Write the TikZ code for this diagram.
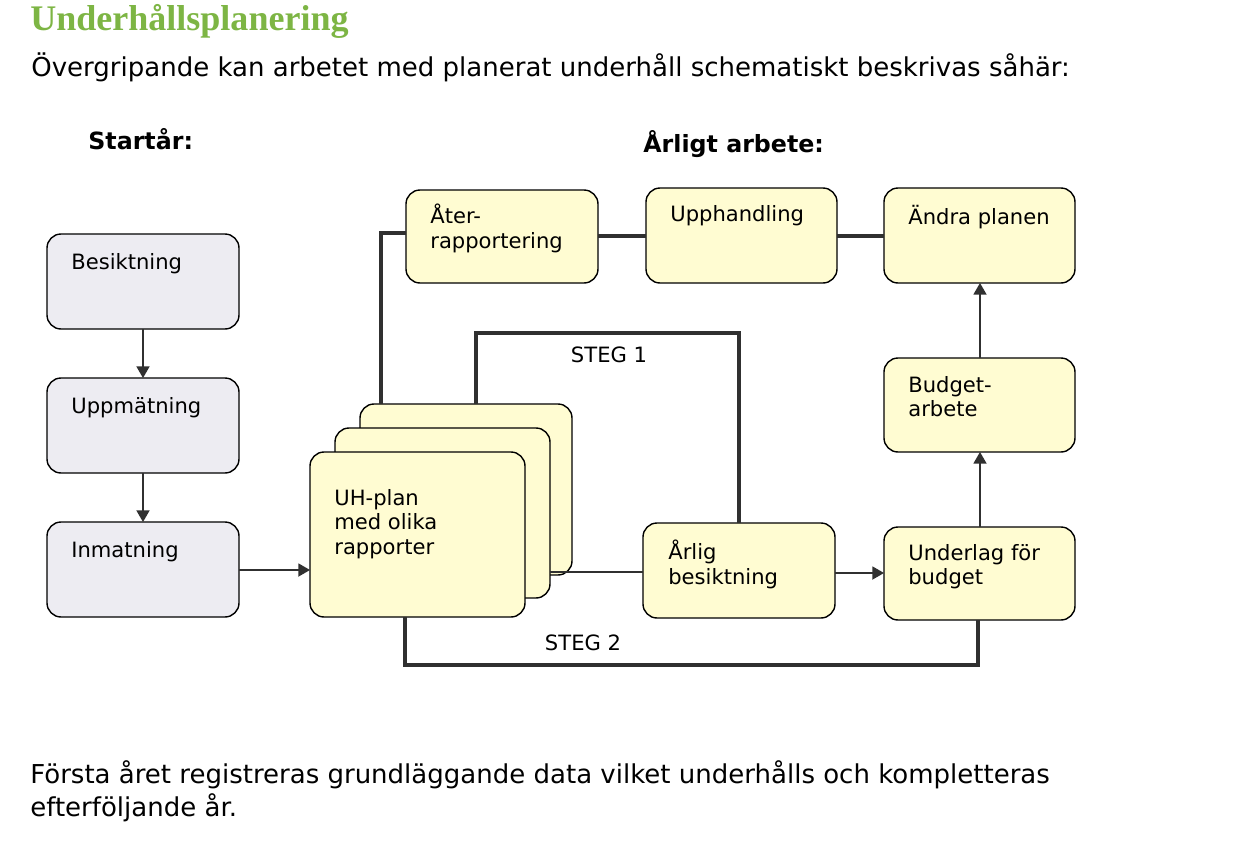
\documentclass[tikz,border=0pt]{standalone}
\usepackage{fontspec}
\setmainfont{DejaVu Sans}
\newfontfamily\titlefont{Liberation Serif}
\usetikzlibrary{arrows,positioning}
\definecolor{boxyellow}{HTML}{FFFCD2}
\definecolor{boxgray}{HTML}{EDECF2}
\definecolor{linegray}{HTML}{303030}
\definecolor{titlegreen}{HTML}{7DB544}
\begin{document}
\begin{tikzpicture}[x=0.02cm, y=-0.02cm, >=triangle 60]
    \tikzstyle{card} = [draw, thick, rounded corners=8pt, fill=boxyellow, inner sep=0pt]
    \tikzstyle{grey} = [card, fill=boxgray]
    \tikzstyle{txt} = [anchor=north west, align=left, font=\fontsize{12}{14}\selectfont, inner sep=0pt]
    \tikzstyle{fat} = [line width=2.2pt, linegray]
    \tikzstyle{thin} = [thick, linegray]
    \useasboundingbox (0,0) rectangle (1259,842);
    % texts around the chart
    \node[anchor=north west, inner sep=0pt, text=titlegreen, font=\titlefont\bfseries\fontsize{20.5}{24}\selectfont] (title) at (30,4) {Underhållsplanering};
    \node[anchor=north west, inner sep=0pt, font=\fontsize{14.8}{18}\selectfont] (intro) at (31,52) {Övergripande kan arbetet med planerat underhåll schematiskt beskrivas såhär:};
    \node[anchor=north west, inner sep=0pt, font=\bfseries\fontsize{13.5}{16}\selectfont] (start) at (88,128) {Startår:};
    \node[anchor=north west, inner sep=0pt, font=\bfseries\fontsize{13.5}{16}\selectfont] (yearly) at (643,130) {Årligt arbete:};
    \node[anchor=north west, inner sep=0pt, align=left, font=\fontsize{14.8}{19}\selectfont] (outro) at (30,760) {Första året registreras grundläggande data vilket underhålls och kompletteras\\efterföljande år.};
    % start year
    \draw[grey] (47,234) rectangle (239,329);
    \draw[grey] (47,378) rectangle (239,473);
    \draw[grey] (47,522) rectangle (239,617);
    \node[txt] (bes) at (71,253) {Besiktning};
    \node[txt] (upp) at (71,397) {Uppmätning};
    \node[txt] (inm) at (71,541) {Inmatning};
    \coordinate (besS) at (143,329);
    \coordinate (uppN) at (143,378);
    \coordinate (uppS) at (143,473);
    \coordinate (inmN) at (143,522);
    \draw[thin, ->] (besS) -- (uppN);
    \draw[thin, ->] (uppS) -- (inmN);
    % plan stack
    \draw[card] (360,404) rectangle (572,575);
    \draw[card] (335,428) rectangle (550,598);
    \draw[card] (310,452) rectangle (525,617);
    \node[txt] (uh) at (334,489) {UH-plan\\med olika\\rapporter};
    % yearly work
    \draw[card] (406,190) rectangle (598,283);
    \draw[card] (646,188) rectangle (837,283);
    \draw[card] (884,188) rectangle (1075,283);
    \draw[card] (884,358) rectangle (1075,452);
    \draw[card] (643,523) rectangle (835,618);
    \draw[card] (884,527) rectangle (1075,620);
    \node[txt] (ater) at (430,204) {Åter-\\rapportering};
    \node[txt] (upph) at (670,205) {Upphandling};
    \node[txt] (andra) at (908,205) {Ändra planen};
    \node[txt] (budg) at (908,376) {Budget-\\arbete};
    \node[txt] (arl) at (668,540) {Årlig\\besiktning};
    \node[txt] (under) at (908,544) {Underlag för\\budget};
    % connectors
    \coordinate (inmE) at (239,570);
    \coordinate (uhW) at (310,570);
    \draw[thin, ->] (inmE) -- (uhW);
    \coordinate (stackE) at (550,572);
    \coordinate (arlW) at (643,572);
    \draw[thin] (stackE) -- (arlW);
    \coordinate (arlE) at (835,573);
    \coordinate (underW) at (884,573);
    \draw[thin, ->] (arlE) -- (underW);
    \coordinate (underN) at (980,527);
    \coordinate (budgS) at (980,452);
    \coordinate (budgN) at (980,358);
    \coordinate (andraS) at (980,283);
    \draw[thin, ->] (underN) -- (budgS);
    \draw[thin, ->] (budgN) -- (andraS);
    \coordinate (backN) at (381,404);
    \coordinate (aterW) at (406,233);
    \draw[fat] (backN) |- (aterW);
    \coordinate (aterE) at (598,236);
    \coordinate (upphW) at (646,236);
    \coordinate (upphE) at (837,236);
    \coordinate (andraW) at (884,236);
    \draw[fat] (aterE) -- (upphW);
    \draw[fat] (upphE) -- (andraW);
    \coordinate (loopA) at (476,404);
    \coordinate (arlN) at (739,523);
    \draw[fat] (loopA) -- (476,333) -| (arlN);
    \node[inner sep=0pt, font=\fontsize{12}{14}\selectfont] (steg1) at (609,355) {STEG 1};
    \coordinate (uhS) at (405,617);
    \coordinate (underS) at (978,620);
    \draw[fat] (uhS) -- (405,665) -| (underS);
    \node[inner sep=0pt, font=\fontsize{12}{14}\selectfont] (steg2) at (583,643) {STEG 2};
\end{tikzpicture}
\end{document}
